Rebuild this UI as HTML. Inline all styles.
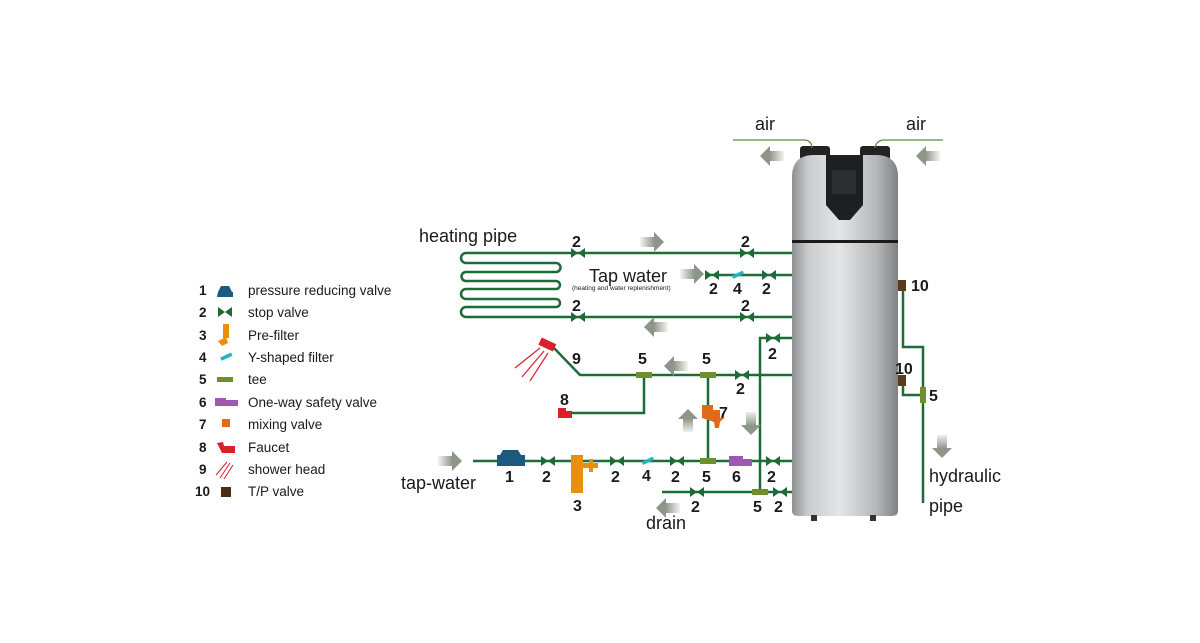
<!DOCTYPE html>
<html><head><meta charset="utf-8"><style>
html,body{margin:0;padding:0;background:#fff}
svg{display:block}
text{font-family:"Liberation Sans","DejaVu Sans",sans-serif;fill:#1a1a1a}
</style></head><body>
<svg width="1200" height="643" viewBox="0 0 1200 643" xmlns="http://www.w3.org/2000/svg">
<defs>
<linearGradient id="tank" x1="0" x2="1">
<stop offset="0" stop-color="#8d8f91"/><stop offset="0.15" stop-color="#c9cbcd"/><stop offset="0.45" stop-color="#e4e5e6"/><stop offset="0.8" stop-color="#b4b6b8"/><stop offset="1" stop-color="#7f8183"/>
</linearGradient>
<linearGradient id="ar" x1="0" x2="1"><stop offset="0" stop-color="#8d9688" stop-opacity="0.1"/><stop offset="0.6" stop-color="#8d9688"/><stop offset="1" stop-color="#8d9688"/></linearGradient>
<linearGradient id="al" x1="1" x2="0"><stop offset="0" stop-color="#8d9688" stop-opacity="0.1"/><stop offset="0.6" stop-color="#8d9688"/><stop offset="1" stop-color="#8d9688"/></linearGradient>
<linearGradient id="ad" x1="0" y1="0" x2="0" y2="1"><stop offset="0" stop-color="#8d9688" stop-opacity="0.15"/><stop offset="0.6" stop-color="#8d9688"/><stop offset="1" stop-color="#8d9688"/></linearGradient>
<linearGradient id="au" x1="0" y1="1" x2="0" y2="0"><stop offset="0" stop-color="#8d9688" stop-opacity="0.15"/><stop offset="0.6" stop-color="#8d9688"/><stop offset="1" stop-color="#8d9688"/></linearGradient>
<g id="v"><path d="M-7,-5 L0,0 L-7,5Z M7,-5 L0,0 L7,5Z" fill="#1d6b38"/></g>
<path id="rA" d="M0,-5 L14,-5 L14,-10 L24,0 L14,10 L14,5 L0,5Z" fill="url(#ar)"/>
<path id="lA" d="M0,-5 L-14,-5 L-14,-10 L-24,0 L-14,10 L-14,5 L0,5Z" fill="url(#al)"/>
<path id="dA" d="M-5,0 L-5,13 L-10,13 L0,23 L10,13 L5,13 L5,0Z" fill="url(#ad)"/>
<path id="uA" d="M-5,0 L-5,-13 L-10,-13 L0,-23 L10,-13 L5,-13 L5,0Z" fill="url(#au)"/>
</defs>

<!-- tank -->
<rect x="800" y="146" width="30" height="14" rx="3" fill="#222"/>
<rect x="860" y="146" width="30" height="14" rx="3" fill="#222"/>
<path d="M792,175 Q793,156 812,155 L878,155 Q897,156 898,175 L898,512 Q897,516 892,516 L798,516 Q793,516 792,512Z" fill="url(#tank)"/>
<path d="M826,155 L863,155 L863,205 L850,220 L839,220 L826,205Z" fill="#1e1f21"/>
<rect x="832" y="170" width="24" height="24" fill="#2c2e31"/>
<rect x="792" y="240" width="106" height="3" fill="#1a1a1a"/>
<rect x="811" y="515" width="6" height="6" fill="#333"/><rect x="870" y="515" width="6" height="6" fill="#333"/>

<!-- air -->
<path d="M733,140 L805,140 Q812,141 812,148" fill="none" stroke="#5d8a3a" stroke-width="1.2"/>
<path d="M875,148 Q876,141 883,140 L943,140" fill="none" stroke="#5d8a3a" stroke-width="1.2"/>
<use href="#lA" x="784" y="156"/><use href="#lA" x="940" y="156"/>
<text x="755" y="130" font-size="18">air</text><text x="906" y="130" font-size="18">air</text>

<g stroke="#1d6b38" stroke-width="2.5" fill="none">
<path d="M792,253 L466,253 A5,5 0 0 0 466,263 L556,263 A4.5,4.5 0 0 1 556,272 L466,272 A4.5,4.5 0 0 0 466,281 L556,281 A4,4 0 0 1 556,289 L466,289 A5,5 0 0 0 466,299 L556,299 A4,4 0 0 1 556,307 L466,307 A5,5 0 0 0 466,317 L792,317"/>
<path d="M705,275 L792,275"/>
<path d="M792,338 L760,338 L760,492"/>
<path d="M792,375 L580,375 L553,347"/>
<path d="M644,375 L644,413 L572,413"/>
<path d="M708,375 L708,461"/>
<path d="M473,461 L792,461"/>
<path d="M662,492 L792,492"/>
<path d="M903,290 L903,347 L923,347 L923,503"/>
<path d="M903,383 L903,395 L923,395"/>
</g>

<use href="#v" x="578" y="253"/><use href="#v" x="747" y="253"/>
<use href="#v" x="712" y="275"/><use href="#v" x="769" y="275"/>
<use href="#v" x="578" y="317"/><use href="#v" x="747" y="317"/>
<use href="#v" x="773" y="338"/><use href="#v" x="742" y="375"/>
<use href="#v" x="548" y="461"/><use href="#v" x="617" y="461"/><use href="#v" x="677" y="461"/><use href="#v" x="773" y="461"/>
<use href="#v" x="697" y="492"/><use href="#v" x="780" y="492"/>

<rect x="732" y="273" width="12" height="3.5" fill="#22b5c0" transform="rotate(-25 738 275)"/>
<rect x="642" y="459" width="12" height="3.5" fill="#22b5c0" transform="rotate(-25 648 461)"/>
<path d="M500,455 L503,450 L518,450 L521,455 L525,455 L525,466 L497,466 L497,455Z" fill="#1b5a7e"/>
<rect x="571" y="455" width="12" height="38" fill="#e8900e"/>
<path d="M583,463 L589,463 L589,459 L593,459 L593,463 L598,463 L598,468 L593,468 L593,472 L589,472 L589,468 L583,468Z" fill="#e8900e"/>
<rect x="636" y="372" width="16" height="6" fill="#6f8f2a"/>
<rect x="700" y="372" width="16" height="6" fill="#6f8f2a"/>
<rect x="700" y="458" width="16" height="6" fill="#6f8f2a"/>
<rect x="752" y="489" width="16" height="6" fill="#6f8f2a"/>
<rect x="920" y="387" width="6" height="16" fill="#6f8f2a"/>
<path d="M729,456 L743,456 L743,459 L752,459 L752,466 L729,466Z" fill="#9b59b0"/>
<path d="M702,405 L713,405 L713,410 L720,410 L720,418 L724,418 L720,422 L719,428 L715,428 L714,422 L708,420 L702,418Z" fill="#e06a1a"/>
<path d="M558,408 L566,408 L566,411 L572,411 L572,418 L558,418Z" fill="#d9202c"/>
<rect x="898" y="280" width="8" height="11" fill="#5a3a1a"/>
<rect x="898" y="375" width="8" height="11" fill="#5a3a1a"/>
<g transform="rotate(25 546 345)"><rect x="539" y="340" width="16" height="8" fill="#d9202c"/></g>
<g stroke="#d9202c" stroke-width="1.2"><path d="M540,348 L515,368 M544,351 L522,377 M548,353 L530,381"/></g>

<use href="#rA" x="640" y="242"/><use href="#rA" x="680" y="274"/>
<use href="#lA" x="668" y="327"/><use href="#lA" x="688" y="366"/>
<use href="#uA" x="688" y="432"/><use href="#dA" x="751" y="412"/>
<use href="#rA" x="438" y="461"/><use href="#lA" x="680" y="508"/>
<use href="#dA" x="942" y="435"/>

<g font-size="16" font-weight="bold">
<text x="572" y="247">2</text><text x="741" y="247">2</text>
<text x="709" y="294">2</text><text x="733" y="294">4</text><text x="762" y="294">2</text>
<text x="572" y="311">2</text><text x="741" y="311">2</text>
<text x="768" y="359">2</text>
<text x="572" y="364">9</text><text x="638" y="364">5</text><text x="702" y="364">5</text>
<text x="736" y="394">2</text>
<text x="560" y="405">8</text><text x="719" y="418">7</text>
<text x="505" y="482">1</text><text x="542" y="482">2</text><text x="611" y="482">2</text><text x="642" y="481">4</text><text x="671" y="482">2</text><text x="702" y="482">5</text><text x="732" y="482">6</text><text x="767" y="482">2</text>
<text x="573" y="511">3</text><text x="691" y="512">2</text><text x="753" y="512">5</text><text x="774" y="512">2</text>
<text x="911" y="291">10</text><text x="895" y="374">10</text><text x="929" y="401">5</text>
</g>
<text x="419" y="242" font-size="18">heating pipe</text>
<text x="589" y="282" font-size="18">Tap water</text>
<text x="572" y="290" font-size="6.5">(heating and water replenishment)</text>
<text x="401" y="489" font-size="18">tap-water</text>
<text x="646" y="529" font-size="18">drain</text>
<text x="929" y="482" font-size="18">hydraulic</text>
<text x="929" y="512" font-size="18">pipe</text>

<g font-size="13.5">
<text x="199" y="295" font-weight="bold">1</text><text x="248" y="295">pressure reducing valve</text>
<text x="199" y="317" font-weight="bold">2</text><text x="248" y="317">stop valve</text>
<text x="199" y="340" font-weight="bold">3</text><text x="248" y="340">Pre-filter</text>
<text x="199" y="362" font-weight="bold">4</text><text x="248" y="362">Y-shaped filter</text>
<text x="199" y="384" font-weight="bold">5</text><text x="248" y="384">tee</text>
<text x="199" y="407" font-weight="bold">6</text><text x="248" y="407">One-way safety valve</text>
<text x="199" y="429" font-weight="bold">7</text><text x="248" y="429">mixing valve</text>
<text x="199" y="452" font-weight="bold">8</text><text x="248" y="452">Faucet</text>
<text x="199" y="474" font-weight="bold">9</text><text x="248" y="474">shower head</text>
<text x="195" y="496" font-weight="bold">10</text><text x="248" y="496">T/P valve</text>
</g>
<path d="M218,292 L221,286 L229,286 L232,292 L233,292 L233,297 L217,297Z" fill="#1b5a7e"/>
<use href="#v" x="225" y="312"/>
<rect x="223" y="324" width="6" height="14" fill="#e8900e"/><path d="M218,341 L226,337 L228,343 L222,346Z" fill="#e8900e"/>
<rect x="220" y="355" width="12" height="3.5" fill="#22b5c0" transform="rotate(-25 226 356)"/>
<rect x="217" y="377" width="16" height="5" fill="#6f8f2a"/>
<path d="M215,398 L226,398 L226,400 L238,400 L238,406 L215,406Z" fill="#9b59b0"/>
<rect x="222" y="419" width="8" height="8" fill="#e06a1a"/>
<path d="M217,443 L223,442 L224,446 L235,446 L235,453 L222,453Z" fill="#d9202c"/>
<g stroke="#d9202c" stroke-width="1"><path d="M227,462 L216,475 M230,463 L220,478 M233,465 L224,479"/></g>
<rect x="221" y="487" width="10" height="10" fill="#4a2e14"/>
</svg>
</body></html>
